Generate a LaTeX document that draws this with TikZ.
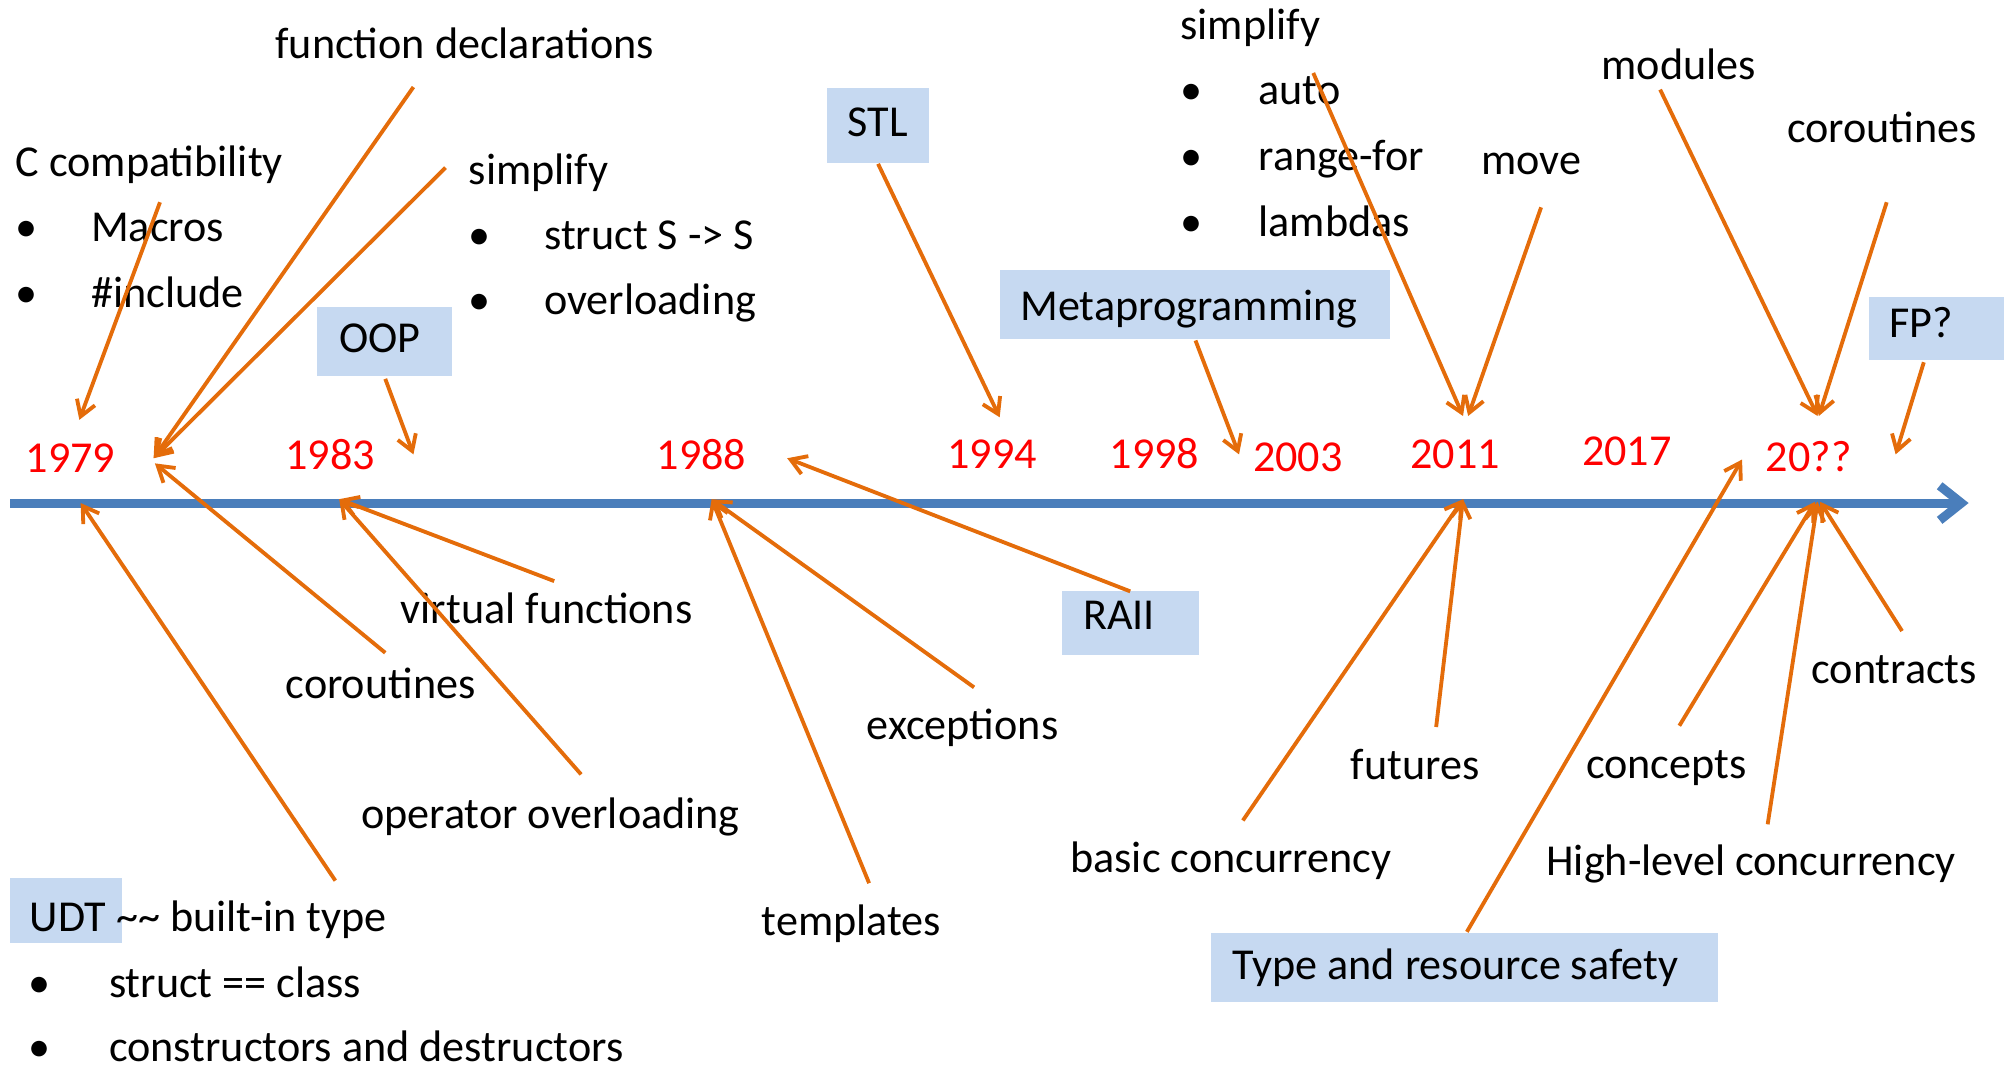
\documentclass[tikz,border=0pt]{standalone}
\usepackage{fontspec}
\setmainfont{Carlito}
\usetikzlibrary{arrows.meta}
\definecolor{axisblue}{HTML}{4A7EBB}
\definecolor{arrorange}{HTML}{E46C0A}
\definecolor{boxfill}{HTML}{C6D9F1}
\definecolor{yearred}{HTML}{FF0000}
\begin{document}
\begin{tikzpicture}[x=1pt,y=-1pt,
  txt/.style={anchor=base west, inner sep=0pt, font=\fontsize{34.5}{40}\selectfont},
  yearlbl/.style={anchor=base, inner sep=0pt, text=yearred, font=\fontsize{34.5}{40}\selectfont},
  hl/.style={fill=boxfill, draw=none, inner sep=0pt},
  conn/.style={draw=arrorange, line width=3pt,
    -{Straight Barb[length=12pt,width=15pt,line width=3pt]}},
  axisline/.style={draw=axisblue, line width=7pt,
    -{Straight Barb[length=17pt,width=27pt,line width=7pt]}},
]
\useasboundingbox (0,0) rectangle (1568,833);

% highlight boxes
\node[hl, minimum width=105pt, minimum height=54pt] (oopbox) at (300.5,267) {};
\node[hl, minimum width=80pt, minimum height=58pt] (stlbox) at (686,98) {};
\node[hl, minimum width=305pt, minimum height=54pt] (metabox) at (933.5,238) {};
\node[hl, minimum width=106pt, minimum height=49pt] (fpbox) at (1513,256.5) {};
\node[hl, minimum width=107pt, minimum height=50pt] (raiibox) at (883.5,487) {};
\node[hl, minimum width=87pt, minimum height=51pt] (udtbox) at (51.5,711.5) {};
\node[hl, minimum width=396pt, minimum height=54pt] (safetybox) at (1144,756) {};

% time axis
\coordinate (axL) at (8,393);
\coordinate (axR) at (1538,393);
\draw[axisline] (axL) -- (axR);

% years
\node[yearlbl] (y1979) at (55,369) {1979};
\node[yearlbl] (y1983) at (258,367) {1983};
\node[yearlbl] (y1988) at (548,367) {1988};
\node[yearlbl] (y1994) at (775,366) {1994};
\node[yearlbl] (y1998) at (902,366) {1998};
\node[yearlbl] (y2003) at (1014,368) {2003};
\node[yearlbl] (y2011) at (1137,366) {2011};
\node[yearlbl] (y2017) at (1271,364) {2017};
\node[yearlbl] (y20xx) at (1413,368) {20??};

% upper labels
\node[txt] (fdecl) at (215,46) {function declarations};
\node[txt] (ccompat) at (12,138) {C compatibility};
\node[txt] (b1) at (12,189) {•};
\node[txt] (macros) at (71,189) {Macros};
\node[txt] (b2) at (12,240) {•};
\node[txt] (incl) at (71,240) {\#include};
\node[txt] (simpA) at (366,144) {simplify};
\node[txt] (b3) at (366,195) {•};
\node[txt] (structS) at (425,195) {struct S -> S};
\node[txt] (b4) at (366,246) {•};
\node[txt] (overl) at (425,246) {overloading};
\node[txt] (oop) at (265,275) {OOP};
\node[txt] (stl) at (662,107) {STL};
\node[txt] (simpB) at (922,31) {simplify};
\node[txt] (b5) at (922,82) {•};
\node[txt] (auto) at (983,82) {auto};
\node[txt] (b6) at (922,133) {•};
\node[txt] (rangefor) at (983,133) {range-for};
\node[txt] (b7) at (922,185) {•};
\node[txt] (lambdas) at (983,185) {lambdas};
\node[txt] (move) at (1157,136) {move};
\node[txt] (meta) at (797,250) {Metaprogramming};
\node[txt] (modules) at (1251,62) {modules};
\node[txt] (corB) at (1396,111) {coroutines};
\node[txt] (fp) at (1476,264) {FP?};

% lower labels
\node[txt] (virt) at (313,487) {virtual functions};
\node[txt] (corA) at (223,546) {coroutines};
\node[txt] (opov) at (282,647) {operator overloading};
\node[txt] (udt) at (23,728) {UDT \textasciitilde\textasciitilde{} built-in type};
\node[txt] (b8) at (22,779) {•};
\node[txt] (structcls) at (85,779) {struct == class};
\node[txt] (b9) at (22,829) {•};
\node[txt] (ctors) at (85,829) {constructors and destructors};
\node[txt] (templ) at (595,731) {templates};
\node[txt] (excep) at (677,578) {exceptions};
\node[txt] (raii) at (846,492) {RAII};
\node[txt] (basicc) at (836,682) {basic concurrency};
\node[txt] (futures) at (1055,609) {futures};
\node[txt] (safety) at (963,765) {Type and resource safety};
\node[txt] (concepts) at (1239,608) {concepts};
\node[txt] (hlc) at (1208,684) {High-level concurrency};
\node[txt] (contracts) at (1415,534) {contracts};

% connector end points
\coordinate (ccS) at (125,158);   \coordinate (ccT) at (62,328);
\coordinate (fdS) at (323,68);    \coordinate (fdT) at (120,358);
\coordinate (saS) at (348,131);   \coordinate (saT) at (120,358);
\coordinate (oopS) at (301,296);  \coordinate (oopT) at (323,355);
\coordinate (caS) at (301,510);   \coordinate (caT) at (121,362);
\coordinate (udtS) at (262,688);  \coordinate (udtT) at (63,393);
\coordinate (vfS) at (433,454);   \coordinate (vfT) at (265,390);
\coordinate (ooS) at (454,605);   \coordinate (ooT) at (265,390);
\coordinate (tpS) at (679,690);   \coordinate (tpT) at (556,390);
\coordinate (exS) at (761,537);   \coordinate (exT) at (556,390);
\coordinate (raS) at (883,462);   \coordinate (raT) at (615,358);
\coordinate (stS) at (686,128);   \coordinate (stT) at (781,326);
\coordinate (mpS) at (934,266);   \coordinate (mpT) at (968,355);
\coordinate (sbS) at (1026,57);   \coordinate (sbT) at (1143,325);
\coordinate (mvS) at (1204,162);  \coordinate (mvT) at (1147,325);
\coordinate (bcS) at (971,641);   \coordinate (bcT) at (1143,390);
\coordinate (fuS) at (1122,568);  \coordinate (fuT) at (1143,390);
\coordinate (trS) at (1146,728);  \coordinate (trT) at (1361,359);
\coordinate (moS) at (1297,70);   \coordinate (moT) at (1420,325);
\coordinate (cbS) at (1474,158);  \coordinate (cbT) at (1421,325);
\coordinate (fpS) at (1503,283);  \coordinate (fpT) at (1481,355);
\coordinate (coS) at (1312,567);  \coordinate (coT) at (1418,392);
\coordinate (hlS) at (1381,644);  \coordinate (hlT) at (1420,392);
\coordinate (ctS) at (1486,493);  \coordinate (ctT) at (1422,392);

% connectors
\foreach \p in {cc,fd,sa,oop,ca,udt,vf,oo,tp,ex,ra,st,mp,sb,mv,bc,fu,tr,mo,cb,fp,co,hl,ct}
  \draw[conn] (\p S) -- (\p T);
\end{tikzpicture}
\end{document}
